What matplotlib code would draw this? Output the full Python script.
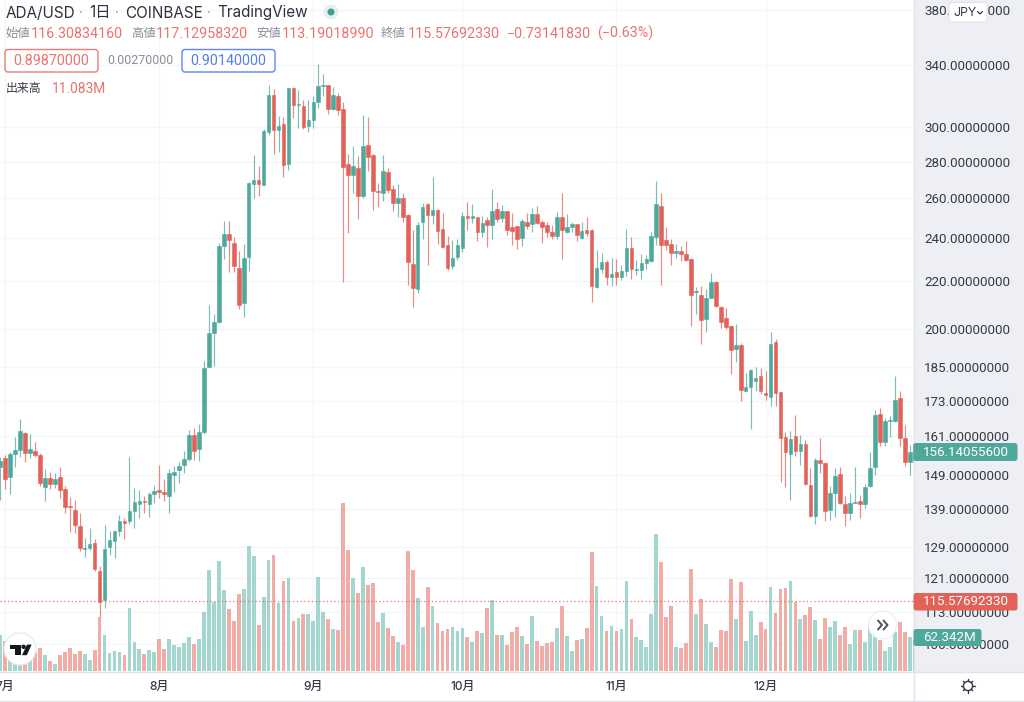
"""
ADA/USD daily candles with volume, redrawn in the TradingView look.
Prices and volumes are read off the screenshot.
"""
import numpy as np
import matplotlib
matplotlib.use("Agg")
import matplotlib.pyplot as plt
from matplotlib.lines import Line2D
from matplotlib.patches import Circle, FancyBboxPatch, Polygon, Rectangle
from matplotlib.ticker import NullFormatter, NullLocator
from matplotlib.transforms import Affine2D

plt.rcParams["font.family"] = ["Inter", "Noto Sans CJK JP", "DejaVu Sans"]
NUM_FONT = ["Roboto", "DejaVu Sans"]   # tabular digits, as in the original

# -- Data ---------------------------------------------------------------------
opens = [151.5, 154.3, 148.4, 155.5, 156.6, 162.1, 155.7, 156.5, 155.2, 145.5, 148.0, 146.4, 148.3, 144.8, 139.9,
         138.8, 134.5, 128.4, 128.6, 129.8, 122.7, 115.8, 129.0, 130.4, 133.0, 135.7, 135.7, 138.5, 140.4, 141.5,
         140.6, 143.5, 144.6, 144.0, 142.8, 149.1, 150.5, 152.0, 153.8, 161.6, 157.0, 162.3, 185.0, 198.1, 202.6,
         236.2, 242.0, 237.6, 226.1, 210.5, 231.0, 267.6, 269.8, 267.2, 297.2, 320.4, 298.2, 301.9, 278.7, 324.7,
         313.8, 313.4, 300.6, 304.5, 315.7, 325.9, 326.5, 311.0, 319.8, 311.2, 278.5, 272.4, 276.2, 261.2, 289.3,
         283.6, 264.0, 263.0, 274.3, 265.1, 257.7, 260.1, 251.3, 227.9, 216.8, 247.8, 256.9, 251.3, 254.0, 244.3,
         236.7, 226.9, 231.2, 235.3, 250.9, 250.0, 250.3, 243.0, 248.8, 246.3, 254.4, 249.8, 253.4, 245.6, 245.9,
         240.2, 248.0, 246.9, 251.9, 247.8, 246.4, 243.2, 241.1, 250.3, 243.0, 245.6, 246.9, 240.1, 243.9, 243.9,
         217.4, 225.5, 228.8, 222.0, 224.0, 222.0, 224.5, 235.3, 225.2, 225.2, 228.2, 229.1, 240.7, 256.2, 239.1,
         237.2, 233.1, 233.8, 232.3, 230.3, 215.2, 214.0, 204.0, 212.9, 219.9, 209.1, 204.2, 201.3, 192.1, 193.4,
         176.6, 177.9, 180.2, 181.8, 175.8, 174.4, 194.7, 176.0, 160.7, 155.4, 161.1, 156.4, 158.6, 146.0, 137.1,
         153.5, 152.5, 138.8, 143.8, 149.4, 140.6, 138.0, 140.8, 141.3, 140.4, 145.7, 151.3, 168.4, 159.2, 166.0,
         166.2, 174.0, 160.5, 152.8, 153.3]
highs = [154.6, 155.0, 156.2, 160.9, 166.7, 162.3, 161.7, 159.3, 155.7, 150.7, 149.9, 149.7, 151.3, 145.6, 142.6,
         141.8, 137.9, 131.2, 133.8, 130.9, 124.1, 134.6, 133.1, 133.1, 137.5, 136.6, 154.6, 145.2, 144.6, 142.7,
         144.1, 145.9, 151.9, 147.9, 150.7, 151.7, 152.9, 156.5, 163.1, 163.8, 165.1, 187.4, 209.8, 206.2, 237.5,
         248.4, 248.4, 240.7, 233.8, 237.2, 268.9, 283.7, 277.5, 299.0, 326.7, 323.9, 306.9, 306.1, 325.0, 325.2,
         323.4, 317.0, 317.0, 319.5, 341.0, 333.8, 326.7, 325.2, 321.7, 316.0, 284.3, 288.9, 283.3, 307.4, 306.1,
         284.3, 268.0, 283.7, 276.2, 267.0, 267.4, 263.0, 252.2, 244.0, 247.9, 257.7, 257.6, 271.3, 254.3, 252.3,
         241.2, 239.1, 239.4, 253.0, 258.4, 256.9, 250.5, 250.9, 250.6, 264.8, 258.0, 256.5, 253.5, 252.6, 246.0,
         249.7, 252.3, 255.2, 255.9, 248.9, 248.0, 246.4, 253.0, 262.7, 251.9, 248.0, 247.2, 248.0, 250.3, 244.3,
         234.3, 232.8, 229.7, 230.5, 230.0, 227.3, 244.6, 240.4, 229.7, 232.5, 232.0, 242.9, 269.4, 263.0, 245.3,
         239.4, 237.2, 236.2, 238.5, 230.6, 217.6, 218.0, 216.5, 223.7, 220.0, 209.3, 208.6, 201.6, 201.9, 194.2,
         182.8, 184.5, 185.2, 184.7, 183.7, 198.5, 195.8, 176.2, 162.4, 162.8, 168.0, 161.6, 159.8, 151.2, 154.3,
         160.4, 153.0, 145.7, 151.2, 151.4, 142.8, 143.7, 151.5, 143.0, 146.2, 155.9, 169.8, 170.4, 167.0, 167.8,
         182.0, 176.6, 164.9, 158.3, 159.8]
lows = [141.7, 144.8, 143.3, 151.5, 154.4, 153.0, 154.3, 154.4, 145.8, 141.3, 144.7, 145.1, 142.1, 138.0, 132.8,
        132.5, 127.9, 126.4, 128.1, 122.8, 112.0, 113.9, 126.7, 126.1, 131.8, 131.1, 135.1, 134.0, 136.6, 138.1,
        136.8, 140.9, 142.3, 141.4, 137.9, 144.1, 146.7, 149.5, 153.1, 153.6, 153.3, 161.8, 185.0, 185.5, 202.3,
        230.3, 224.4, 224.4, 208.1, 204.8, 224.8, 260.3, 261.2, 267.0, 295.6, 284.3, 285.6, 271.6, 275.3, 305.9,
        299.8, 299.0, 297.4, 299.6, 312.0, 319.5, 308.1, 310.6, 307.5, 219.9, 242.7, 263.0, 249.7, 260.0, 274.8,
        254.0, 255.4, 258.7, 263.0, 253.7, 250.5, 248.2, 218.4, 209.0, 215.0, 239.6, 227.5, 246.9, 237.2, 235.3,
        225.1, 225.4, 229.7, 233.5, 244.0, 247.3, 238.8, 240.7, 235.6, 239.8, 248.0, 247.9, 241.5, 236.7, 234.6,
        236.4, 244.5, 243.0, 246.9, 237.8, 240.7, 239.4, 239.4, 230.0, 242.4, 243.2, 238.6, 239.8, 241.1, 211.0,
        217.1, 223.6, 218.4, 218.0, 218.3, 220.6, 222.4, 221.0, 223.0, 221.2, 225.4, 228.9, 236.7, 218.5, 234.3,
        227.3, 230.6, 229.4, 229.2, 201.0, 206.2, 194.0, 198.7, 212.8, 209.0, 200.5, 199.8, 182.6, 187.0, 172.9,
        176.5, 163.5, 176.4, 175.3, 173.2, 171.2, 171.2, 147.0, 145.4, 141.6, 154.8, 152.0, 146.0, 136.8, 135.1,
        149.6, 135.8, 136.0, 136.8, 140.6, 134.4, 136.2, 140.7, 136.5, 139.3, 145.4, 149.0, 157.9, 158.0, 160.9,
        165.9, 158.0, 151.6, 148.9, 152.0]
closes = [153.1, 147.9, 155.5, 156.7, 162.9, 155.7, 156.9, 155.2, 146.7, 148.0, 146.4, 147.9, 144.5, 139.6, 139.6,
          134.6, 128.5, 128.6, 129.6, 123.4, 115.4, 128.4, 130.6, 133.0, 135.8, 135.3, 138.6, 141.1, 141.3, 141.2,
          143.4, 144.4, 143.9, 143.3, 149.5, 149.9, 151.7, 153.8, 161.6, 156.4, 162.5, 184.9, 198.3, 202.6, 236.4,
          242.0, 239.1, 226.9, 209.6, 230.6, 268.2, 269.6, 267.4, 297.6, 320.4, 298.4, 300.6, 278.3, 324.7, 314.0,
          314.5, 300.0, 304.5, 316.0, 326.0, 326.5, 311.2, 320.4, 310.6, 277.1, 272.4, 277.5, 261.2, 288.9, 282.8,
          263.9, 263.5, 274.8, 264.3, 257.7, 260.0, 250.3, 228.9, 217.3, 246.7, 255.7, 251.3, 254.0, 243.7, 235.6,
          225.9, 230.5, 236.9, 250.9, 249.9, 250.8, 243.2, 247.6, 246.4, 253.7, 249.4, 253.4, 244.1, 243.5, 239.7,
          248.6, 245.9, 251.9, 247.6, 245.3, 243.0, 240.9, 250.5, 244.0, 245.6, 246.9, 241.5, 243.4, 242.7, 218.0,
          226.1, 228.6, 222.0, 223.4, 222.0, 224.8, 235.1, 225.7, 225.7, 228.3, 230.3, 241.2, 256.9, 236.7, 236.6,
          233.0, 233.8, 232.4, 229.6, 214.0, 215.8, 203.6, 212.9, 219.9, 209.4, 202.6, 200.7, 191.7, 193.4, 176.7,
          177.9, 184.0, 181.1, 176.3, 174.9, 193.9, 175.9, 160.6, 156.0, 160.1, 156.3, 158.5, 146.2, 137.1, 153.5,
          152.6, 138.6, 143.7, 148.8, 140.9, 138.0, 140.9, 141.1, 140.5, 145.3, 151.2, 168.0, 159.3, 166.1, 166.3,
          173.1, 160.6, 152.8, 155.9, 158.7]
volumes = [66.6, 55.5, 45.0, 29.6, 26.5, 26.5, 31.5, 35.8, 42.0, 29.0, 17.9, 13.0, 29.0, 35.8, 42.6,
           32.1, 37.0, 30.9, 20.4, 39.5, 99.3, 66.6, 32.7, 37.0, 35.2, 29.0, 116.0, 53.1, 40.7, 31.5,
           38.9, 34.6, 58.6, 40.7, 59.2, 47.5, 44.4, 52.4, 62.9, 50.0, 59.2, 109.2, 186.3, 127.1, 203.6,
           149.3, 114.8, 93.2, 141.9, 151.8, 232.0, 212.9, 85.1, 137.0, 205.5, 214.7, 126.5, 166.6, 171.5, 92.6,
           98.1, 104.9, 104.9, 93.2, 174.6, 109.2, 95.6, 77.1, 75.9, 311.6, 224.0, 172.1, 145.0, 191.9, 159.8,
           162.9, 91.3, 106.7, 79.0, 65.4, 53.1, 48.1, 222.7, 187.6, 135.7, 82.1, 155.5, 119.7, 88.8, 74.7,
           78.4, 82.1, 74.0, 79.6, 62.9, 53.7, 74.0, 71.0, 116.0, 132.0, 67.3, 67.3, 48.1, 72.2, 80.8,
           65.4, 50.0, 101.8, 55.5, 45.7, 51.2, 53.1, 79.6, 120.9, 64.8, 37.0, 57.4, 59.2, 79.6, 220.9,
           157.3, 101.2, 74.7, 83.9, 74.7, 77.7, 167.2, 96.3, 62.9, 57.4, 44.4, 105.5, 253.6, 201.8, 99.3,
           120.3, 44.4, 43.2, 51.8, 188.2, 105.5, 132.7, 86.4, 53.7, 43.8, 75.9, 74.7, 170.9, 95.6, 164.7,
           54.9, 110.4, 66.6, 90.1, 78.4, 155.5, 106.7, 151.8, 153.6, 166.6, 128.3, 95.6, 103.7, 118.5, 94.4,
           59.8, 98.1, 82.1, 92.6, 66.6, 81.4, 50.6, 76.5, 76.5, 53.1, 82.1, 97.5, 57.4, 37.0, 44.4,
           72.8, 91.3, 72.8, 62.3, 58.0]

price_ticks = [380, 340, 300, 280, 260, 240, 220, 200, 185, 173, 161, 149, 139, 129, 121, 113, 106]
month_pos = [1, 32, 63, 93, 124, 154]
month_labels = ["7月", "8月", "9月", "10月", "11月", "12月"]
close_line = 115.57692330
last_price = 156.14055600
last_volume = "62.342M"

# -- Colours ------------------------------------------------------------------
UP = "#50a89c"
DOWN = "#e2625a"
UP_VOL = "#a3d6cf"
DOWN_VOL = "#f1acA8"
RED_TXT = "#e9746e"
GREY_TXT = "#8a8e99"
DARK_TXT = "#363a45"
PANEL = "#eeeff4"
BORDER = "#e0e3eb"
GRID = "#f4f5f7"

W, H = 1024, 702
fig = plt.figure(figsize=(W / 100, H / 100), dpi=100, facecolor="white")
PX = Affine2D().scale(1, -1).translate(0, H)   # screenshot pixels, y down

# -- Axes: grid at the back, then volume, then candles ------------------------
PLOT_R, PLOT_B = 913.5, 672
rect = [0, 1 - PLOT_B / H, PLOT_R / W, PLOT_B / H]
ax = fig.add_axes(rect, zorder=0)
ax_vol = ax.twinx()
ax_vol.set_zorder(1)
ax_candle = ax.twinx()
ax_candle.set_zorder(2)

x = np.arange(len(closes))
o, h, l, c = map(np.array, (opens, highs, lows, closes))
up = c >= o

ax.set_yscale("log")
ax_candle.set_yscale("log")
for a in (ax, ax_candle):
    a.set_ylim(100.2, 387.7)
ax.set_xlim(-0.04, 183.76)
ax_vol.set_ylim(-1.85, 1241)

ax.set_yticks(price_ticks)
ax.set_yticklabels([f"{t:.8f}" for t in price_ticks], family=NUM_FONT)
ax.yaxis.set_minor_locator(NullLocator())
ax.yaxis.set_minor_formatter(NullFormatter())
ax.yaxis.tick_right()
ax.tick_params(axis="y", length=0, pad=7.6, labelsize=9.6, labelcolor=DARK_TXT)
ax.set_xticks(month_pos)
ax.set_xticklabels(month_labels, fontweight="medium")
ax.tick_params(axis="x", length=0, pad=6.2, labelsize=8.6, labelcolor=DARK_TXT)
ax.grid(True, color=GRID, linewidth=1.0)
ax.set_axisbelow(True)
for a in (ax, ax_vol, ax_candle):
    for spine in a.spines.values():
        spine.set_visible(False)
for a in (ax_vol, ax_candle):
    a.yaxis.set_visible(False)
    a.xaxis.set_visible(False)

ax_vol.bar(x, volumes, width=0.76, color=np.where(up, UP_VOL, DOWN_VOL), linewidth=0)

ax_candle.vlines(x[up], l[up], h[up], color=UP, linewidth=0.85, alpha=0.75)
ax_candle.vlines(x[~up], l[~up], h[~up], color=DOWN, linewidth=0.85, alpha=0.75)
body_lo = np.minimum(o, c)
body_hi = np.maximum(o, c)
ax_candle.bar(x, body_hi - body_lo, bottom=body_lo, width=0.72,
              color=np.where(up, UP, DOWN), edgecolor=np.where(up, UP, DOWN), linewidth=0.4)
ax_candle.axhline(close_line, color=DOWN, linestyle=(0, (1, 2)), linewidth=0.9, alpha=0.85)


# -- Helpers in screenshot pixels ---------------------------------------------
def txt(px, py, s, color=DARK_TXT, size=9.0, ha="left", **kw):
    fig.text(px, py, s, transform=PX, color=color, fontsize=size, ha=ha, va="center", zorder=7, **kw)


def num(px, py, s, color=RED_TXT, size=10.3, ha="left"):
    txt(px, py, s, color=color, size=size, ha=ha, family=NUM_FONT)


def box(x0, y0, x1, y1, face, edge="none", lw=0.0, round_to=2.5, zorder=5):
    fig.add_artist(FancyBboxPatch((x0, y0), x1 - x0, y1 - y0, boxstyle=f"round,pad=0,rounding_size={round_to}",
                                  mutation_scale=1, transform=PX, facecolor=face, edgecolor=edge,
                                  linewidth=lw, zorder=zorder))


def line(xs, ys, color, lw=1.0, zorder=6):
    fig.add_artist(Line2D(xs, ys, transform=PX, color=color, linewidth=lw, zorder=zorder,
                          solid_capstyle="round", solid_joinstyle="round"))


# -- Price panel and frame ----------------------------------------------------
fig.add_artist(Rectangle((PLOT_R, 0), W - PLOT_R, PLOT_B, transform=PX, facecolor=PANEL, edgecolor="none", zorder=-1))
line([PLOT_R, PLOT_R], [0, 700], BORDER, 1.0, zorder=3)
line([0, W], [PLOT_B, PLOT_B], BORDER, 1.0, zorder=3)
line([0, W], [700.5, 700.5], BORDER, 1.0, zorder=3)

box(PLOT_R, 443, 1017.5, 461, UP)
num(965.5, 452, f"{last_price:.8f}", color="white", size=9.6, ha="center")
box(PLOT_R, 593, 1017.5, 610.5, DOWN)
num(965.5, 601.5, f"{close_line:.8f}", color="white", size=9.6, ha="center")
box(PLOT_R, 629, 981.5, 646, UP)
num(949.5, 637.5, last_volume, color="white", size=9.6, ha="center")

# currency button
box(949, 2.5, 987, 22, "white", BORDER, 0.8, round_to=3)
txt(953, 12.5, "JPY", size=8.9)
line([977.5, 980, 982.5], [11.5, 14, 11.5], DARK_TXT, 0.9, zorder=7)

# settings gear
fig.add_artist(Circle((968, 686), 4.6, transform=PX, facecolor="none", edgecolor="#30343f", linewidth=1.0, zorder=6))
for ang in np.deg2rad(np.arange(0, 360, 45)):
    line([968 + 4.6 * np.cos(ang), 968 + 6.6 * np.cos(ang)],
         [686 + 4.6 * np.sin(ang), 686 + 6.6 * np.sin(ang)], "#30343f", 1.0)

# -- Header -------------------------------------------------------------------
for px, s in [(6, "ADA/USD"), (89, "1日"), (125, "COINBASE"), (217, "TradingView")]:
    txt(px, 13, s, color="#2e323d", size=11.0)
for px in (81, 117, 209):
    txt(px, 14, "·", color=GREY_TXT, size=9, ha="center")
fig.add_artist(Circle((331, 12), 7.5, transform=PX, facecolor="#e3f1ee", edgecolor="none", zorder=5))
fig.add_artist(Circle((331, 12), 3.5, transform=PX, facecolor="#3f9f8e", edgecolor="none", zorder=6))

for px, s in [(6, "始値"), (131, "高値"), (256, "安値"), (381, "終値")]:
    txt(px, 33.5, s, color=GREY_TXT, size=8.9)
for px, s in [(31, "116.30834160"), (156, "117.12958320"), (282, "113.19018990"), (408, "115.57692330"),
              (507, "−0.73141830"), (597, "(−0.63%)")]:
    num(px, 33.5, s)

box(5, 49.5, 98, 72, "white", "#ea7c77", 1.0, round_to=3)
num(51.5, 61, "0.89870000", ha="center")
num(140, 61, "0.00270000", color=GREY_TXT, size=8.9, ha="center")
box(182, 49.5, 275, 72, "white", "#5f86f5", 1.0, round_to=3)
num(228.5, 61, "0.90140000", color="#4f7df0", ha="center")
txt(6, 89, "出来高", color=DARK_TXT, size=8.6)
num(52, 89, "11.083M", size=9.9)

# -- TradingView badge and scroll button --------------------------------------
fig.add_artist(Circle((20, 649), 16, transform=PX, facecolor="white", edgecolor="#e6e8ee", linewidth=0.8, zorder=5))
fig.add_artist(Polygon([(10, 644.6), (20.6, 644.6), (20.6, 655.2), (15.4, 655.2), (15.4, 649), (10, 649)],
                       transform=PX, facecolor="#131722", edgecolor="none", zorder=6))
fig.add_artist(Circle((23.6, 646.8), 2.2, transform=PX, facecolor="#131722", edgecolor="none", zorder=6))
fig.add_artist(Polygon([(27, 644.6), (31.6, 644.6), (26.8, 655.2), (22, 655.2)],
                       transform=PX, facecolor="#131722", edgecolor="none", zorder=6))

fig.add_artist(Circle((882.5, 625), 14, transform=PX, facecolor="white", edgecolor="#eceef3", linewidth=0.8, zorder=5))
line([878, 882, 878], [620.5, 625, 629.5], "#50535e", 1.4)
line([883.5, 887.5, 883.5], [620.5, 625, 629.5], "#50535e", 1.4)

plt.savefig("out.png", dpi=100, facecolor=fig.get_facecolor())
plt.close(fig)
